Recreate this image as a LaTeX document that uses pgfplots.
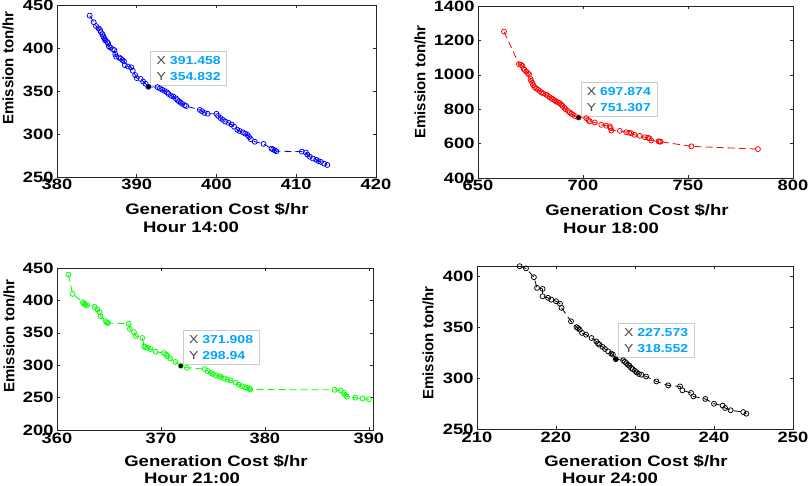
\documentclass[border=0pt]{standalone}
\usepackage{pgfplots}
\pgfplotsset{compat=1.18}
\usepackage{fontspec}
\setmainfont{Liberation Sans}
\newfontfamily\wfont[FakeStretch=1.22]{Liberation Sans}
\definecolor{tipblue}{RGB}{0,163,255}
\definecolor{axgray}{RGB}{38,38,38}
\definecolor{xgray}{RGB}{70,70,70}
\definecolor{mygreen}{RGB}{0,255,0}

\pgfplotsset{
  panel/.style={
    scale only axis,
    axis line style={axgray, line width=0.6pt},
    tick style={axgray, line width=0.5pt},
    major tick length=3pt,
    tick align=inside,
    xtick pos=both, ytick pos=both,
    ticklabel style={font=\wfont\bfseries\fontsize{15}{15}\selectfont},
    /pgf/number format/assume math mode=true,
    /pgf/number format/1000 sep={},
    scaled ticks=false,
    xticklabel style={yshift=1pt},
  },
  ser/.style={color=#1, line width=0.8pt, dash pattern=on 7pt off 4pt,
    mark=o, mark size=2.5pt, mark options={solid, line width=0.75pt}},
}
\newcommand{\tip}[2]{%
  \node[draw=gray!40, fill=white, line width=0.7pt, anchor=south west,
        xshift=2pt, yshift=1pt, inner xsep=6pt, inner ysep=5pt, align=left,
        font=\wfont\fontsize{11.5}{16}\selectfont]
    at (axis cs:#1,#2) {\textcolor{xgray}{X} \textcolor{tipblue}{\bfseries #1}\\
                        \textcolor{xgray}{Y} \textcolor{tipblue}{\bfseries #2}};}

\begin{document}
\begin{tikzpicture}
\useasboundingbox (0pt,0pt) rectangle (809pt,486pt);

% ---------------- Panel 1 : Hour 14 ----------------
\begin{axis}[panel, at={(57pt,309pt)}, anchor=south west, width=319pt, height=172pt,
  xmin=380, xmax=420, ymin=250, ymax=450,
  xtick={380,390,400,410,420}, ytick={250,300,350,400,450}]
\addplot[ser=blue] table {
384.1 437.6
384.6 430.0
384.9 425.5
385.2 423.0
385.4 421.0
385.5 418.5
385.7 416.0
385.8 413.5
385.9 411.5
386.0 410.0
386.1 408.5
386.3 407.0
386.4 405.5
386.5 402.0
386.7 400.5
387.0 398.5
387.2 397.5
387.3 393.0
387.4 390.0
387.8 389.0
388.0 387.5
388.2 386.0
388.4 384.5
388.5 380.0
388.9 378.5
389.3 377.5
389.5 373.5
389.8 368.5
390.0 365.0
390.5 364.0
390.8 361.0
391.1 358.5
391.458 354.832
392.6 354.5
392.9 353.0
393.2 351.5
393.5 350.0
393.8 348.5
394.0 346.5
394.3 344.5
394.6 343.5
394.9 341.5
395.1 339.5
395.3 338.0
395.5 336.5
395.7 335.0
396.0 333.5
396.2 332.5
397.9 328.0
398.2 326.5
398.5 324.5
398.9 323.5
400.0 323.5
400.2 321.0
400.5 318.5
400.8 316.5
401.1 314.5
401.5 313.0
401.9 311.0
402.2 308.5
402.6 305.0
402.9 303.5
403.3 302.0
403.6 300.5
403.9 299.0
404.1 296.5
404.3 294.0
404.8 291.0
405.9 288.5
406.9 283.0
407.1 282.0
407.3 281.0
407.5 280.0
410.7 279.5
411.2 278.5
411.4 276.0
411.7 273.5
412.1 271.5
412.5 270.0
412.8 268.5
413.1 267.5
413.5 265.5
413.9 264.0
};
\addplot[only marks, mark=*, mark size=2pt, black] coordinates {(391.458,354.832)};
\tip{391.458}{354.832}
\end{axis}

% ---------------- Panel 2 : Hour 18 ----------------
\begin{axis}[panel, at={(478pt,308pt)}, anchor=south west, width=315pt, height=172pt,
  xmin=650, xmax=800, ymin=400, ymax=1400,
  xtick={650,700,750,800}, ytick={400,600,800,1000,1200,1400}]
\addplot[ser=red] table {
662.4 1251
669.5 1062
670.5 1058
671.1 1052
671.7 1035
672.2 1028
673.0 1019
673.8 1008
674.3 1003
675.0 975
675.3 965
675.9 952
676.3 940
677.0 928
677.8 920
678.6 913
679.5 905
680.2 898
681.0 892
682.5 884
683.3 877
684.1 870
685.0 863
685.7 858
686.5 851
687.3 845
688.1 840
688.9 835
689.6 827
690.2 820
691.0 810
691.7 800
692.8 790
693.7 781
694.5 774
695.2 768
696.2 760
697.874 751.307
701.6 748
702.5 738
703.2 729
705.6 723
708.7 709
711.1 704
712.7 700
713.2 690
713.5 676
717.5 674
720.6 666
722.0 663
723.0 660
724.6 651
727.0 645
729.4 637
731.0 634
731.7 630
732.5 618
736.0 613
736.5 612
737.0 611
751.6 584
783.3 568
};
\addplot[only marks, mark=*, mark size=2pt, black] coordinates {(697.874,751.307)};
\tip{697.874}{751.307}
\end{axis}

% ---------------- Panel 3 : Hour 21 ----------------
\begin{axis}[panel, at={(57pt,56pt)}, anchor=south west, width=316pt, height=162pt,
  xmin=360, xmax=390.4, ymin=200, ymax=450,
  xtick={360,370,380,390}, ytick={200,250,300,350,400,450}]
\addplot[ser=mygreen] table {
361.1 439.7
361.5 410
362.5 397
362.6 395
362.7 393.5
362.9 392.5
363.6 390
363.9 386
364.1 382
364.2 375.6
364.7 368
364.8 366
364.9 365
366.9 364
367.0 356
367.4 351
367.6 344.8
368.2 342
368.4 329
368.5 327.5
368.7 326.8
369.0 325
369.5 320.7
370.3 318.7
370.5 316.5
370.6 314
370.9 310.4
371.4 305
371.908 298.94
372.5 296
374.2 294
374.5 291
374.8 288
375.0 286.5
375.3 284
375.6 283
375.8 281.7
376.1 279.5
376.4 277.7
376.7 276.5
377.2 273
377.5 270
377.8 267.6
378.1 266
378.3 265
378.5 264.3
378.6 262.5
386.7 262
387.3 261
387.6 257.5
387.7 254
387.9 251.5
388.7 250
389.4 248.5
390.0 247.4
};
\addplot[only marks, mark=*, mark size=2pt, black] coordinates {(371.908,298.94)};
\tip{371.908}{298.94}
\end{axis}

% ---------------- Panel 4 : Hour 24 ----------------
\begin{axis}[panel, at={(477pt,57pt)}, anchor=south west, width=316pt, height=163pt,
  xmin=210, xmax=250, ymin=250, ymax=410,
  xtick={210,220,230,240,250}, ytick={250,300,350,400}]
\addplot[ser=black] table {
215.4 409.8
216.2 407.7
217.2 399
217.6 388.5
218.3 387.5
218.3 380.3
219.0 378.7
219.4 377
220.0 375.4
220.5 373
220.7 368.9
221.9 355.7
222.6 350
222.8 349
223.0 347.5
223.3 344.3
223.8 342.6
224.5 339.3
225.1 336
225.3 334
225.5 332.8
225.9 330.5
226.2 328.5
226.6 326.2
227.0 324
227.2 323
227.573 318.552
228.5 317.4
228.7 316
228.9 314.8
229.1 313
229.3 312
229.5 310
229.7 308.8
230.0 307
230.2 305.6
230.5 304
230.8 303.3
231.4 301.6
232.7 296.7
234.2 292.8
235.7 291.8
236.0 288
237.1 285.4
237.4 282
238.9 279.5
240.0 274.8
241.1 273
241.4 270.6
242.1 268.4
243.7 266.6
244.1 265
};
\addplot[only marks, mark=*, mark size=2pt, black] coordinates {(227.573,318.552)};
\tip{227.573}{318.552}
\end{axis}

% ---------------- labels ----------------
\tikzset{lab/.style={font=\wfont\bfseries\fontsize{15.2}{15.2}\selectfont, inner sep=0pt, anchor=base},
         ylab/.style={font=\bfseries\fontsize{15}{15}\selectfont, inner sep=0pt, rotate=90, anchor=center}}
\node[ylab] at (8pt,418pt) {Emission ton/hr};
\node[ylab] at (420pt,404pt) {Emission ton/hr};
\node[ylab] at (9pt,150pt) {Emission ton/hr};
\node[ylab] at (428pt,143pt) {Emission ton/hr};
\node[lab] at (217pt,271.5pt) {Generation Cost \$/hr};
\node[lab] at (191pt,253.5pt) {Hour 14:00};
\node[lab] at (637pt,270.5pt) {Generation Cost \$/hr};
\node[lab] at (611pt,252.5pt) {Hour 18:00};
\node[lab] at (216pt,19.5pt) {Generation Cost \$/hr};
\node[lab] at (192pt,2.5pt) {Hour 21:00};
\node[lab] at (636pt,19.5pt) {Generation Cost \$/hr};
\node[lab] at (610pt,2.5pt) {Hour 24:00};
\end{tikzpicture}
\end{document}
